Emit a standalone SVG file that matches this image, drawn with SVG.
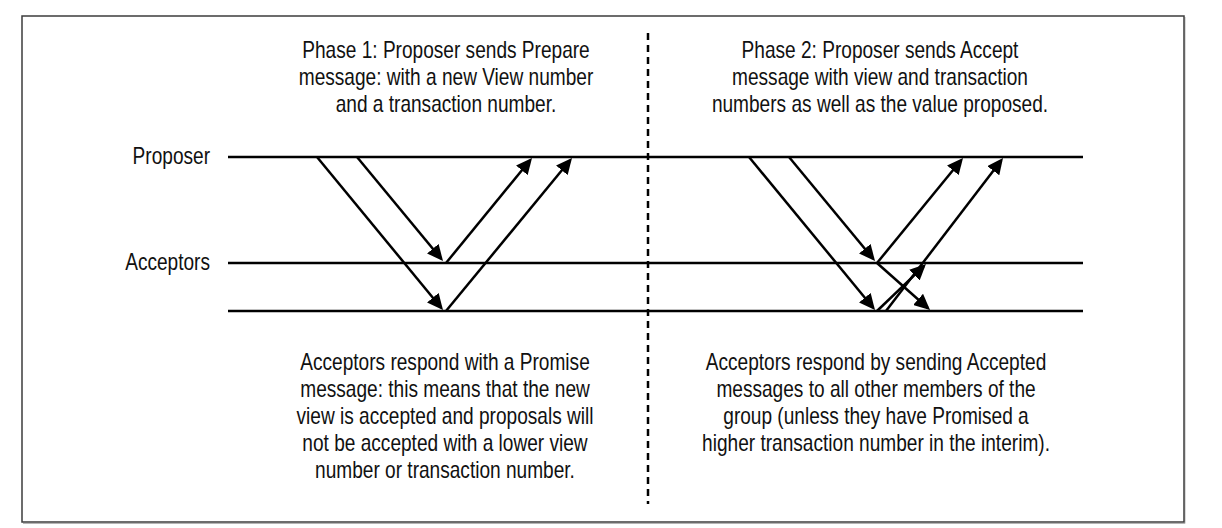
<svg xmlns="http://www.w3.org/2000/svg" width="1222" height="528" viewBox="0 0 1222 528">
<style>
  .t { font-family: "Liberation Sans", Arial, sans-serif; font-size: 23px; fill: #111; text-anchor: middle; }
  .lbl { font-family: "Liberation Sans", Arial, sans-serif; font-size: 23px; fill: #111; text-anchor: end; }
  .tl { stroke: #000; stroke-width: 2.5; fill: none; }
  .msg { stroke: #000; stroke-width: 2.5; fill: none; marker-end: url(#ah); }
  .div { stroke: #000; stroke-width: 2.5; stroke-dasharray: 7 5; fill: none; }
</style>
<defs>
  <marker id="ah" markerWidth="16" markerHeight="15" refX="13" refY="7.5" orient="auto" markerUnits="userSpaceOnUse">
    <path d="M0,0 L16,7.5 L0,15 z" fill="#000"/>
  </marker>
</defs>
<rect x="0" y="0" width="1222" height="528" fill="#fff"/>
<g id="frame">
  <polyline points="1185,17 1185,523.5 23,523.5" fill="none" stroke="#b5b5b5" stroke-width="1"/>
  <rect x="22" y="16" width="1162" height="506" fill="none" stroke="#3c3c3c" stroke-width="1.5"/>
</g>
<g id="divider">
  <line class="div" x1="648" y1="33" x2="648" y2="504"/>
</g>
<g id="proposer">
  <g transform="translate(210 0) scale(0.83 1)"><text class="lbl" x="0" y="164">Proposer</text></g>
  <line class="tl" x1="228" y1="157" x2="1083" y2="157"/>
</g>
<g id="acceptors">
  <g transform="translate(210 0) scale(0.83 1)"><text class="lbl" x="0" y="270">Acceptors</text></g>
  <line class="tl" x1="228" y1="263" x2="1083" y2="263"/>
</g>
<g id="acceptors2">
  <line class="tl" x1="228" y1="311" x2="1083" y2="311"/>
</g>
<g id="phase1-text" transform="translate(446 0) scale(0.83 1)">
  <text class="t" x="0" y="58">Phase 1: Proposer sends Prepare</text>
  <text class="t" x="0" y="85">message: with a new View number</text>
  <text class="t" x="0" y="112">and a transaction number.</text>
</g>
<g id="phase2-text" transform="translate(880 0) scale(0.83 1)">
  <text class="t" x="0" y="58">Phase 2: Proposer sends Accept</text>
  <text class="t" x="0" y="85">message with view and transaction</text>
  <text class="t" x="0" y="112">numbers as well as the value proposed.</text>
</g>
<g id="promise-text" transform="translate(445 0) scale(0.83 1)">
  <text class="t" x="0" y="370">Acceptors respond with a Promise</text>
  <text class="t" x="0" y="397">message: this means that the new</text>
  <text class="t" x="0" y="424">view is accepted and proposals will</text>
  <text class="t" x="0" y="451">not be accepted with a lower view</text>
  <text class="t" x="0" y="478">number or transaction number.</text>
</g>
<g id="accepted-text" transform="translate(876 0) scale(0.83 1)">
  <text class="t" x="0" y="370">Acceptors respond by sending Accepted</text>
  <text class="t" x="0" y="397">messages to all other members of the</text>
  <text class="t" x="0" y="424">group (unless they have Promised a</text>
  <text class="t" x="0" y="451">higher transaction number in the interim).</text>
</g>
<g id="connectors">
  <line class="msg" x1="317" y1="157" x2="441.1" y2="307.7"/>
  <line class="msg" x1="357" y1="157" x2="441.1" y2="258.7"/>
  <line class="msg" x1="446" y1="263" x2="530.1" y2="160.3"/>
  <line class="msg" x1="446" y1="311" x2="570.1" y2="160.3"/>
  <line class="msg" x1="749" y1="157" x2="873.1" y2="307.7"/>
  <line class="msg" x1="789" y1="157" x2="873.1" y2="258.7"/>
  <line class="msg" x1="877" y1="263" x2="961.1" y2="160.3"/>
  <line class="msg" x1="886" y1="311" x2="1001.2" y2="160.4"/>
  <line class="msg" x1="877" y1="311" x2="923.8" y2="266.1"/>
  <line class="msg" x1="877" y1="263" x2="927.8" y2="308"/>
</g>
</svg>
